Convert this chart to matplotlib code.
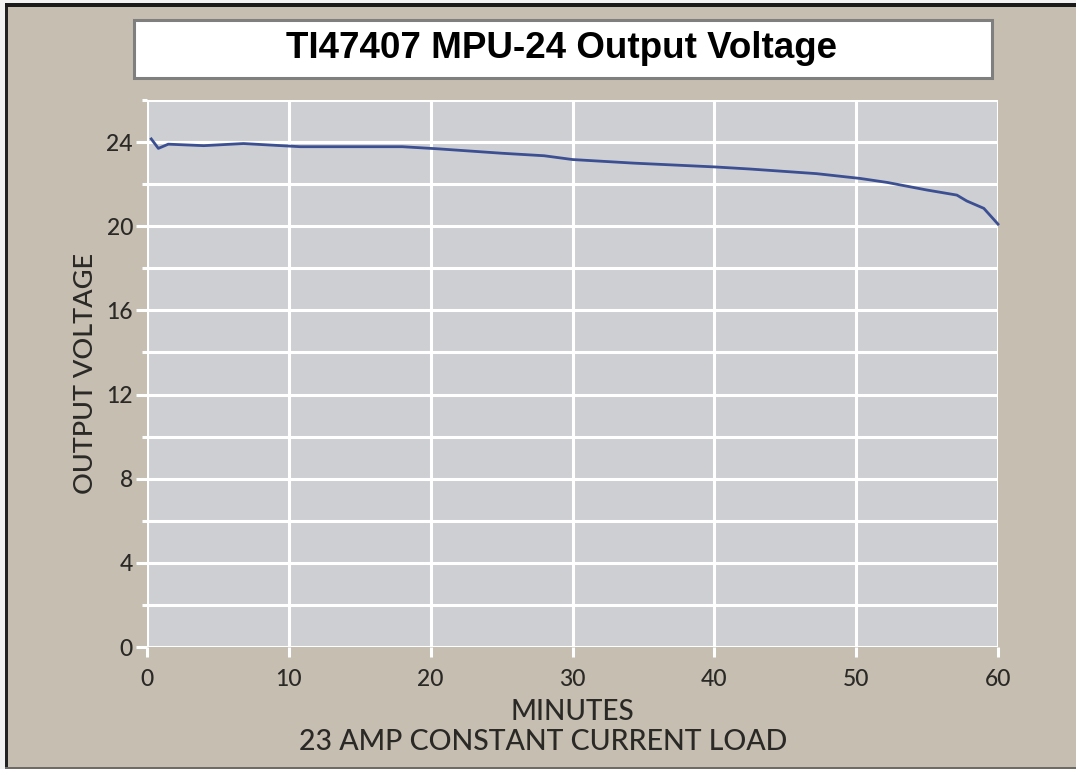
import matplotlib.pyplot as plt
from matplotlib.patches import Rectangle

# values
minutes = [0.3, 0.8, 1.5, 4.0, 6.8, 10.8, 18.0, 20.5, 25.0, 28.0, 30.0, 34.3,
           40.0, 42.5, 47.2, 50.3, 52.2, 55.0, 57.1, 57.8, 59.0, 60.0]
voltage = [24.15, 23.7, 23.9, 23.83, 23.93, 23.78, 23.78, 23.68, 23.47, 23.35,
           23.17, 23.0, 22.82, 22.72, 22.5, 22.27, 22.08, 21.72, 21.48, 21.2,
           20.85, 20.1]
x_ticks = [0, 10, 20, 30, 40, 50, 60]
y_ticks = [0, 4, 8, 12, 16, 20, 24]
y_minor = [2, 6, 10, 14, 18, 22, 26]

title = "TI47407 MPU-24 Output Voltage"
x_label = "MINUTES"
x_sub = "23 AMP CONSTANT CURRENT LOAD"
y_label = "OUTPUT VOLTAGE"

bg = "#c5beb1"
plot_bg = "#cdcfd2"
text_c = "#2a2926"
line_c = "#3b4f92"

fig = plt.figure(figsize=(10.76, 7.69), dpi=100, facecolor=bg)

# frame lines of the original screenshot
fig.patches.append(Rectangle((0, 0), 1, 1, transform=fig.transFigure,
                             facecolor="#f2f2f2", edgecolor="none", zorder=-3))
fig.patches.append(Rectangle((8 / 1076, 0), 1, 1 - 7 / 769, transform=fig.transFigure,
                             facecolor=bg, edgecolor="none", zorder=-2))
fig.patches.append(Rectangle((5 / 1076, 0), 3 / 1076, 1 - 3 / 769, transform=fig.transFigure,
                             facecolor="#222222", edgecolor="none", zorder=-1))
fig.patches.append(Rectangle((5 / 1076, 1 - 7 / 769), 1, 4 / 769, transform=fig.transFigure,
                             facecolor="#1a1a1a", edgecolor="none", zorder=-1))
fig.patches.append(Rectangle((5 / 1076, 0), 1, 2 / 769, transform=fig.transFigure,
                             facecolor="#6e6b66", edgecolor="none", zorder=-1))

# title box
fig.patches.append(Rectangle((134 / 1076, 1 - 78 / 769), 858 / 1076, 58 / 769,
                             transform=fig.transFigure, facecolor="white",
                             edgecolor="#7f7f7f", linewidth=2.2))
fig.text(562 / 1076, 1 - 49 / 769, title, ha="center", va="center",
         fontsize=26.5, fontweight="bold", family="Liberation Sans", color="black")

ax = fig.add_axes([147 / 1076, 1 - 647 / 769, 851 / 1076, 547 / 769])
ax.set_facecolor(plot_bg)
ax.set_xlim(0, 60)
ax.set_ylim(0, 26)
for s in ax.spines.values():
    s.set_visible(False)

ax.set_xticks(x_ticks)
ax.set_yticks(y_ticks)
ax.set_yticks(y_minor, minor=True)
ax.grid(True, which="both", color="white", linewidth=2.2)
ax.set_axisbelow(True)
ax.tick_params(axis="both", which="major", color="white", width=2.2,
               labelsize=16.5, labelcolor=text_c)
ax.tick_params(axis="y", which="major", length=8, pad=2)
ax.tick_params(axis="y", which="minor", length=3.6, width=2.2, color="white")
ax.tick_params(axis="x", which="major", length=7, pad=9)
for lbl in ax.get_xticklabels() + ax.get_yticklabels():
    lbl.set_family("Lato")
    lbl.set_fontweight("medium")

ax.plot(minutes, voltage, color=line_c, linewidth=2, zorder=3, clip_on=False)

ax.set_ylabel(y_label, fontsize=19.5, color=text_c, family="Lato",
              fontweight="medium", labelpad=6)
fig.text(572 / 1076, 1 - 712 / 769, x_label, ha="center", va="center",
         fontsize=20, color=text_c, family="Lato", fontweight="medium")
fig.text(543 / 1076, 1 - 742 / 769, x_sub, ha="center", va="center",
         fontsize=20.5, color=text_c, family="Lato", fontweight="medium")

fig.savefig("out.png", dpi=100, facecolor=bg)
